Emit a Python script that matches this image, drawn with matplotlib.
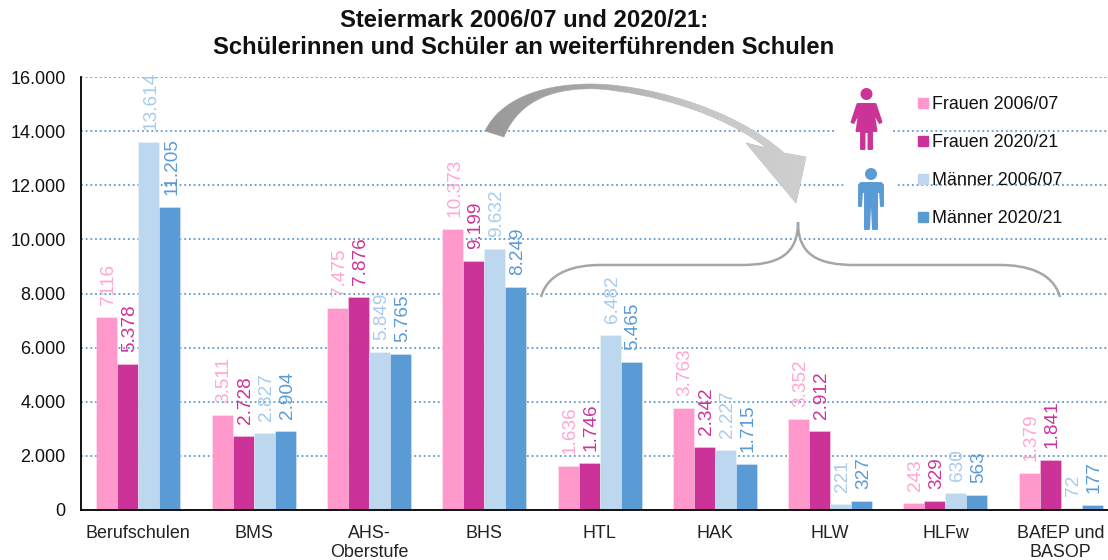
import matplotlib
matplotlib.use("Agg")
import numpy as np
import matplotlib.pyplot as plt
from matplotlib.path import Path
from matplotlib.patches import PathPatch, Circle, Rectangle
from matplotlib.colors import LinearSegmentedColormap
from matplotlib.lines import Line2D

plt.rcParams['font.family'] = ['Liberation Sans', 'DejaVu Sans']

categories = ["Berufschulen", "BMS", "AHS-\nOberstufe", "BHS", "HTL", "HAK", "HLW", "HLFw", "BAfEP und\nBASOP"]
frauen_0607 = [7116, 3511, 7475, 10373, 1636, 3763, 3352, 243, 1379]
frauen_2021 = [5378, 2728, 7876, 9199, 1746, 2342, 2912, 329, 1841]
maenner_0607 = [13614, 2827, 5849, 9632, 6482, 2227, 221, 630, 72]
maenner_2021 = [11205, 2904, 5765, 8249, 5465, 1715, 327, 563, 177]
series_names = ["Frauen 2006/07", "Frauen 2020/21", "Männer 2006/07", "Männer 2020/21"]
yticks = [0, 2000, 4000, 6000, 8000, 10000, 12000, 14000, 16000]
title = "Steiermark 2006/07 und 2020/21:\nSchülerinnen und Schüler an weiterführenden Schulen"

colors = ["#FF99CC", "#CC3399", "#BDD7EE", "#5B9BD5"]
label_colors = ["#FFA6D2", "#CC3399", "#A9CBEA", "#5B9BD5"]
series = [frauen_0607, frauen_2021, maenner_0607, maenner_2021]

W, H = 1108, 560
fig = plt.figure(figsize=(W / 100, H / 100), dpi=100, facecolor="white")
L, R, T, B = 81, 1108, 77, 510
ax = fig.add_axes([L / W, 1 - B / H, (R - L) / W, (B - T) / H])
step = 115.3
ax.set_xlim(-0.497, -0.497 + (R - L) / step)
ax.set_ylim(0, 16000)
for s in ["top", "right"]:
    ax.spines[s].set_visible(False)
ax.spines["left"].set_linewidth(1.3)
ax.spines["bottom"].set_linewidth(1.3)
ax.set_axisbelow(True)
ax.yaxis.grid(True, color="#5B9BD5", linestyle=(0, (1, 1.6)), linewidth=1.3)
ax.set_yticks(yticks)
ax.set_yticklabels([f"{v:,}".replace(",", ".") for v in yticks], fontsize=13, color="#111111")
ax.set_xticks(range(len(categories)))
ax.set_xticklabels(categories, fontsize=12.9, color="#222222", linespacing=1.12)
ax.tick_params(axis="x", length=0, pad=11)
ax.tick_params(axis="y", length=0, pad=11)

bw = 21 / step
for i, (vals, col, lc, name) in enumerate(zip(series, colors, label_colors, series_names)):
    xs = [c + (i - 1.5) * bw for c in range(len(categories))]
    ax.bar(xs, vals, bw, color=col, label=name, edgecolor="#FFFFFF66", linewidth=0.5, zorder=2)
    for j, (x, v) in enumerate(zip(xs, vals)):
        txt = str(v) if (i == 0 and j == 0) or v < 1000 else f"{v:,}".replace(",", ".")
        ax.annotate(txt, (x, v), xytext=(2, 12), textcoords="offset pixels", rotation=90,
                    ha="center", va="bottom", color=lc, fontsize=13.7, zorder=5)

fig.suptitle(title, x=524 / W, y=1 - 9 / H, va="top", fontsize=17.2, fontweight="bold",
             linespacing=1.22, color="#111111")

# decoration overlay in pixel coordinates
ov = fig.add_axes([0, 0, 1, 1], facecolor="none")
ov.axis("off")

# arrow with grey gradient
verts = [(485, 131), (500, 100), (540, 84), (591, 84), (640, 84), (730, 105), (784, 153),
         (806, 157), (796, 203), (746, 143), (767, 148),
         (720, 112), (650, 93), (599, 89), (560, 87), (520, 97), (504, 137), (485, 131)]
codes = [Path.MOVETO, Path.CURVE4, Path.CURVE4, Path.CURVE4, Path.CURVE4, Path.CURVE4, Path.CURVE4,
         Path.LINETO, Path.LINETO, Path.LINETO, Path.LINETO,
         Path.CURVE4, Path.CURVE4, Path.CURVE4, Path.CURVE4, Path.CURVE4, Path.CURVE4, Path.CLOSEPOLY]
arrow = PathPatch(Path(verts, codes), facecolor="none", edgecolor="#B5B5B5", linewidth=0.5, zorder=3, transform=ov.transData)
ov.add_patch(arrow)
cmap = LinearSegmentedColormap.from_list("g", ["#999999", "#A8A8A8", "#C8C8C8", "#CFCFCF"])
im = ov.imshow(np.linspace(0, 1, 256).reshape(1, -1), extent=(485, 806, 203, 84), cmap=cmap, aspect="auto", zorder=3)
im.set_clip_path(arrow)

# brace
bc = [Path.MOVETO, Path.CURVE4, Path.CURVE4, Path.CURVE4, Path.LINETO, Path.CURVE4, Path.CURVE4, Path.CURVE4]
bv = [(541, 297), (548, 272), (575, 265), (600, 265), (741, 265), (778, 265), (798, 255), (798, 222)]
ov.add_patch(PathPatch(Path(bv, bc), facecolor="none", edgecolor="#A6A6A6", linewidth=1.8, zorder=3))
bv2 = [(1060, 297), (1053, 272), (1026, 265), (1000, 265), (855, 265), (818, 265), (798, 255), (798, 222)]
ov.add_patch(PathPatch(Path(bv2, bc), facecolor="none", edgecolor="#A6A6A6", linewidth=1.8, zorder=3))

# white gaps in the gridlines behind the figures
ov.add_patch(Rectangle((837, 125), 56, 12, facecolor="white", edgecolor="none", zorder=1))
ov.add_patch(Rectangle((845, 179), 50, 12, facecolor="white", edgecolor="none", zorder=1))

# woman
pink = "#CC3399"
cx = 866.5
ov.add_patch(Circle((cx, 94), 6, facecolor=pink, edgecolor="none", zorder=4))
dress = [(cx - 9, 104), (cx + 9, 104), (cx + 15, 122), (cx + 13, 123), (cx + 7, 112), (cx + 10, 131),
         (cx + 5.5, 131), (cx + 5.5, 149), (cx + 2, 149), (cx + 2, 132), (cx - 2, 132), (cx - 2, 149), (cx - 5.5, 149),
         (cx - 5.5, 131), (cx - 10, 131), (cx - 7, 112), (cx - 13, 123), (cx - 15, 122)]
ov.fill(*zip(*dress), facecolor=pink, edgecolor=pink, zorder=4, lw=1.4, joinstyle="round")

# man
blue = "#5B9BD5"
cx = 871
ov.add_patch(Circle((cx, 174), 6, facecolor=blue, edgecolor="none", zorder=4))
man = [(cx - 10, 183), (cx + 10, 183), (cx + 12, 185), (cx + 12, 206), (cx + 10, 206), (cx + 9, 192),
       (cx + 6, 192), (cx + 6, 229), (cx + 2, 229), (cx + 1, 208), (cx - 1, 208), (cx - 2, 229), (cx - 6, 229),
       (cx - 6, 192), (cx - 9, 192), (cx - 10, 206), (cx - 12, 206), (cx - 12, 185)]
ov.fill(*zip(*man), facecolor=blue, edgecolor=blue, zorder=4, lw=1.4, joinstyle="round")

ov.set_xlim(0, W)
ov.set_ylim(H, 0)

# legend
handles = [Line2D([], [], marker="s", linestyle="none", color=c, markersize=6.5) for c in colors]
leg = ov.legend(handles, series_names, loc="upper left", bbox_to_anchor=(912 / W, 1 - 96 / H),
                bbox_transform=fig.transFigure, frameon=False, fontsize=12.9, labelspacing=1.18,
                handletextpad=-0.1, handlelength=1.2, borderpad=0, borderaxespad=0)
for t in leg.get_texts():
    t.set_color("#111111")
leg.set_zorder(6)

fig.savefig("out.png", dpi=100)
